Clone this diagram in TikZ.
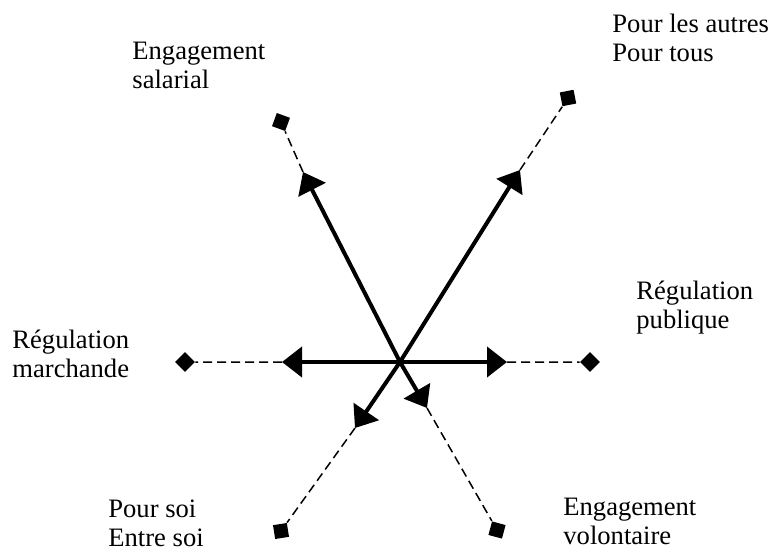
\documentclass[tikz,border=0pt]{standalone}
\usepackage{fontspec}
\setmainfont{Liberation Serif}
\usetikzlibrary{arrows.meta}
\tikzset{
  axe/.style={line width=2pt,-{Triangle[length=10pt,width=15pt]}},
  pointille/.style={dash pattern=on 4.5pt off 2.5pt,line width=0.75pt},
  pole/.style={fill,inner sep=0pt,minimum size=7pt,rectangle},
  etiq/.style={align=left,anchor=base west,inner sep=0pt,font=\fontsize{13.3}{14.5}\selectfont}
}
\begin{document}
\begin{tikzpicture}[x=0.5pt,y=-0.5pt]
\useasboundingbox (0,0) rectangle (770,547);
% centre et pointes des fleches
\coordinate (O) at (400,362);
\coordinate (tG) at (282,362);
\coordinate (tD) at (507,362);
\coordinate (tHG) at (303,172);
\coordinate (tHD) at (520,170);
\coordinate (tBG) at (355,428);
\coordinate (tBD) at (427,408);
% poles
\node[pole,rotate=45] (sG) at (185,362) {};
\node[pole,rotate=45] (sD) at (590,362) {};
\node[pole,rotate=-20] (sHG) at (281,122) {};
\node[pole,rotate=11] (sHD) at (568,98) {};
\node[pole,rotate=9] (sBG) at (281,531) {};
\node[pole,rotate=-15] (sBD) at (497,530) {};
% pointilles
\draw[pointille] (tG) -- (sG);
\draw[pointille] (tD) -- (sD);
\draw[pointille] (tHG) -- (sHG);
\draw[pointille] (tHD) -- (sHD);
\draw[pointille] (tBG) -- (sBG);
\draw[pointille] (tBD) -- (sBD);
% fleches
\draw[axe] (O) -- (tG);
\draw[axe] (O) -- (tD);
\draw[axe] (O) -- (tHG);
\draw[axe] (O) -- (tHD);
\draw[axe] (O) -- (tBG);
\draw[axe] (O) -- (tBD);
% etiquettes (ancrees sur la ligne de base de la derniere ligne)
\node[etiq] (lHG) at (132,88) {Engagement\\salarial};
\node[etiq] (lHD) at (612,61) {Pour les autres\\Pour tous};
\node[etiq] (lG) at (12,377) {Régulation\\marchande};
\node[etiq] (lD) at (636,328) {Régulation\\publique};
\node[etiq] (lBG) at (108,546) {Pour soi\\Entre soi};
\node[etiq] (lBD) at (563,544) {Engagement\\volontaire};
\end{tikzpicture}
\end{document}
